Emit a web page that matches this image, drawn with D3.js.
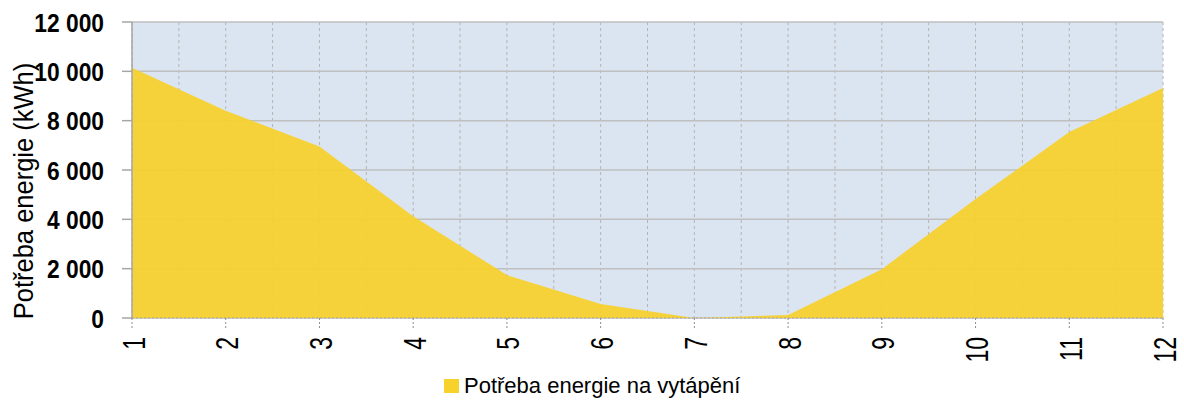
<!DOCTYPE html>
<html>
<head>
<meta charset="utf-8">
<script src="https://d3js.org/d3.v7.min.js"></script>
<style>
  body { margin: 0; background: #fff; }
  .ytick { font-family: "Liberation Sans", Arial, sans-serif; font-weight: bold; font-size: 26.5px; }
  .xtick { font-family: "Liberation Sans", Arial, sans-serif; font-size: 23px; }
  .title { font-family: "Liberation Sans", Arial, sans-serif; font-size: 25.5px; }
  .legend { font-family: "Liberation Sans", Arial, sans-serif; font-size: 22px; }
</style>
</head>
<body>
<div id="chart"></div>
<script>
  // monthly heating energy demand
  const months = [1, 2, 3, 4, 5, 6, 7, 8, 9, 10, 11, 12];
  const demand = [10150, 8400, 6950, 4130, 1740, 570, 0, 120, 1980, 4820, 7540, 9320];
  const yTicks = [0, 2000, 4000, 6000, 8000, 10000, 12000];
  const seriesName = "Potřeba energie na vytápění";
  const yTitle = "Potřeba energie (kWh)";

  const width = 1184, height = 401;
  const plotL = 132, plotR = 1163, plotT = 22, plotB = 318;

  const svg = d3.select("#chart").append("svg")
    .attr("width", width).attr("height", height);

  const x = d3.scaleLinear().domain([1, 12]).range([plotL, plotR]);
  const y = d3.scaleLinear().domain([0, 12000]).range([plotB, plotT]);

  const fmt = v => d3.format(",")(v).replace(/,/g, " ");

  // plot background
  svg.append("rect")
    .attr("x", plotL).attr("y", plotT)
    .attr("width", plotR - plotL).attr("height", plotB - plotT)
    .attr("fill", "#dbe5f1");

  // vertical dashed grid at every half month
  const halfSteps = d3.range(1, 12.01, 0.5);
  svg.append("g").selectAll("line")
    .data(halfSteps)
    .enter().append("line")
    .attr("x1", d => x(d)).attr("x2", d => x(d))
    .attr("y1", plotT).attr("y2", plotB)
    .attr("stroke", "#b4b4b4")
    .attr("stroke-width", 1)
    .attr("stroke-dasharray", "3,3");

  // horizontal grid
  svg.append("g").selectAll("line")
    .data(yTicks)
    .enter().append("line")
    .attr("x1", plotL).attr("x2", plotR)
    .attr("y1", d => y(d)).attr("y2", d => y(d))
    .attr("stroke", "#bfbfbf")
    .attr("stroke-width", 1.5);

  // area
  const area = d3.area()
    .x((d, i) => x(months[i]))
    .y0(y(0))
    .y1(d => y(d));

  svg.append("path")
    .datum(demand)
    .attr("d", area)
    .attr("fill", "#f7d12c")
    .attr("fill-opacity", 0.93);

  // left axis line + ticks
  svg.append("line")
    .attr("x1", plotL).attr("x2", plotL)
    .attr("y1", plotT).attr("y2", plotB)
    .attr("stroke", "#a6a6a6").attr("stroke-width", 1.5);

  svg.append("g").selectAll("line")
    .data(yTicks)
    .enter().append("line")
    .attr("x1", plotL - 10).attr("x2", plotL)
    .attr("y1", d => y(d)).attr("y2", d => y(d))
    .attr("stroke", "#a6a6a6").attr("stroke-width", 1.5);

  // condensed bold tick labels
  svg.append("g").selectAll("text")
    .data(yTicks)
    .enter().append("text")
    .attr("class", "ytick")
    .attr("transform", d => `translate(104,${y(d) + 9.5}) scale(0.86,1)`)
    .attr("text-anchor", "end")
    .text(fmt);

  // bottom axis (dashed) + ticks
  svg.append("line")
    .attr("x1", plotL).attr("x2", plotR)
    .attr("y1", plotB).attr("y2", plotB)
    .attr("stroke", "#a6a6a6").attr("stroke-width", 1)
    .attr("stroke-dasharray", "2,2");

  svg.append("g").selectAll("line")
    .data(months)
    .enter().append("line")
    .attr("x1", d => x(d)).attr("x2", d => x(d))
    .attr("y1", plotB).attr("y2", plotB + 10)
    .attr("stroke", "#8c8c8c").attr("stroke-width", 1)
    .attr("stroke-dasharray", "2,2");

  // rotated month labels, stretched across the tick
  svg.append("g").selectAll("text")
    .data(months)
    .enter().append("text")
    .attr("class", "xtick")
    .attr("transform", d => `translate(${x(d) + 12.5},337) rotate(-90) scale(1,1.4)`)
    .attr("text-anchor", "end")
    .text(d => d);

  // y axis title
  svg.append("text")
    .attr("class", "title")
    .attr("transform", `translate(33,191) rotate(-90) scale(1,1.1)`)
    .attr("text-anchor", "middle")
    .text(yTitle);

  // legend
  const lg = svg.append("g").attr("transform", "translate(444,379)");
  lg.append("rect")
    .attr("width", 15).attr("height", 14)
    .attr("fill", "#f7d12c");
  lg.append("text")
    .attr("class", "legend")
    .attr("x", 20).attr("y", 14)
    .text(seriesName);
</script>
</body>
</html>
